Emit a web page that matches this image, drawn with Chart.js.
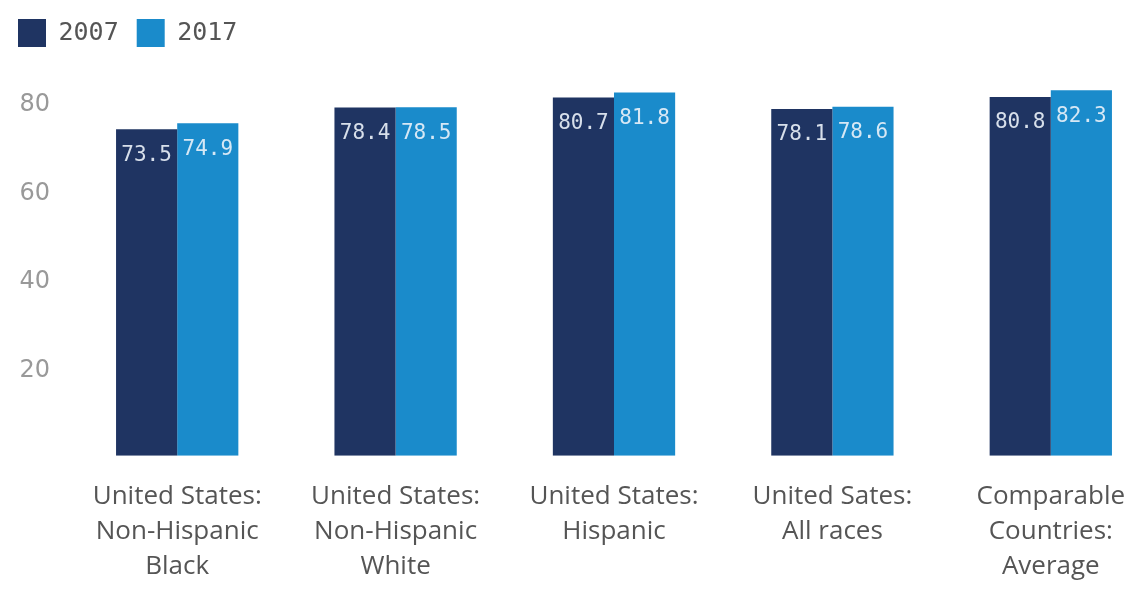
<!DOCTYPE html>
<html>
<head>
<meta charset="utf-8">
<script src="https://cdn.jsdelivr.net/npm/chart.js@4"></script>
<style>
  html, body { margin: 0; padding: 0; background: #fff; overflow: hidden; }
  #wrap { width: 1139px; height: 614px; overflow: hidden; }
</style>
</head>
<body>
<div id="wrap">
  <canvas id="lifeChart" width="1160" height="614"></canvas>
</div>
<script>
const categories = [
  ['United States:', 'Non-Hispanic', 'Black'],
  ['United States:', 'Non-Hispanic', 'White'],
  ['United States:', 'Hispanic'],
  ['United Sates:', 'All races'],
  ['Comparable', 'Countries:', 'Average']
];
const values2007 = [73.5, 78.4, 80.7, 78.1, 80.8];
const values2017 = [74.9, 78.5, 81.8, 78.6, 82.3];
const yTicks = [20, 40, 60, 80];

// labels drawn inside the top of each bar
const barLabels = {
  id: 'barLabels',
  afterDatasetsDraw(chart) {
    const ctx = chart.ctx;
    ctx.save();
    ctx.font = '21px "DejaVu Sans Mono"';
    ctx.fillStyle = 'rgba(235,242,250,0.9)';
    ctx.textAlign = 'center';
    ctx.textBaseline = 'middle';
    chart.data.datasets.forEach((ds, i) => {
      chart.getDatasetMeta(i).data.forEach((bar, j) => {
        ctx.fillText(ds.data[j].toFixed(1), bar.x, bar.y + 26);
      });
    });
    ctx.restore();
  }
};

new Chart(document.getElementById('lifeChart'), {
  type: 'bar',
  data: {
    labels: categories,
    datasets: [
      { label: '2007', data: values2007, backgroundColor: '#1f3462' },
      { label: '2017', data: values2017, backgroundColor: '#1a8bcb' }
    ]
  },
  options: {
    responsive: false,
    animation: false,
    layout: { padding: { top: 1, right: 0, left: 0, bottom: 7 } },
    datasets: { bar: { categoryPercentage: 0.56, barPercentage: 1 } },
    plugins: {
      legend: {
        position: 'top',
        align: 'start',
        labels: {
          boxWidth: 28,
          boxHeight: 28,
          padding: 18,
          color: '#555',
          font: { family: '"DejaVu Sans Mono"', size: 25 }
        }
      },
      tooltip: { enabled: false }
    },
    scales: {
      x: {
        grid: { display: false, drawTicks: false },
        border: { display: false },
        ticks: {
          padding: 23,
          color: '#555',
          maxRotation: 0,
          autoSkip: false,
          font: { family: '"Open Sans"', size: 26, lineHeight: 1.35 }
        }
      },
      y: {
        min: 0,
        max: 89.8,
        grid: { display: false, drawTicks: false },
        border: { display: false },
        afterFit(scale) { scale.width = 68; },
        afterBuildTicks(scale) {
          scale.ticks = yTicks.map(v => ({ value: v }));
        },
        ticks: {
          padding: 18,
          labelOffset: 4,
          color: '#999',
          font: { family: '"DejaVu Sans"', size: 24 }
        }
      }
    }
  },
  plugins: [barLabels]
});
</script>
</body>
</html>
